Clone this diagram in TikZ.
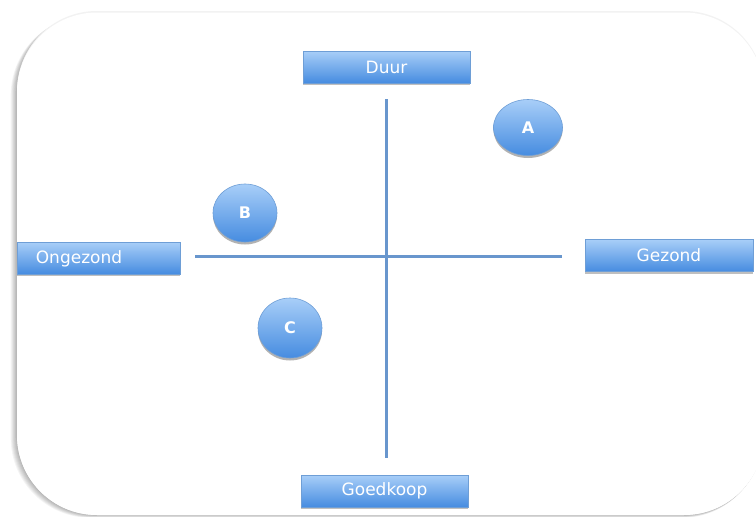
\documentclass[tikz,border=0pt]{standalone}
\usepackage{fontspec}
\setmainfont{DejaVu Sans}
\usetikzlibrary{shadows,shapes.geometric}
\definecolor{topblue}{RGB}{168,206,248}
\definecolor{botblue}{RGB}{70,140,224}
\definecolor{edgeblue}{RGB}{110,158,214}
\definecolor{axisblue}{RGB}{104,150,205}
\tikzset{
  lbl/.style={draw=edgeblue, line width=0.6pt, top color=topblue, bottom color=botblue,
    minimum width=167pt, minimum height=32pt, inner sep=0pt, text=white,
    font=\fontsize{17}{17}\selectfont,
    drop shadow={shadow xshift=0pt, shadow yshift=-2pt, opacity=0.25, fill=black}},
  lbltext/.style={text=white, font=\fontsize{17}{17}\selectfont, inner sep=0pt},
  dot/.style={ellipse, draw=edgeblue, line width=0.6pt, top color=topblue, bottom color=botblue,
    inner sep=0pt, text=white, font=\fontsize{16}{16}\selectfont\bfseries,
    drop shadow={shadow xshift=0pt, shadow yshift=-2.5pt, opacity=0.3, fill=black}},
  axis/.style={draw=axisblue, line width=2.4pt}
}
\begin{document}
\begin{tikzpicture}[x=1pt,y=-1pt]
\useasboundingbox (0,0) rectangle (756,517);
\clip (0,0) rectangle (756,517);
\fill[white] (0,0) rectangle (756,517);
% soft shadow of the panel
\foreach \k in {1,...,7}{
  \fill[black, opacity=0.045] ({17-\k*0.9},{12+\k*0.5}) [rounded corners=80pt] rectangle ({764-\k*0.3},{515+\k*0.4});
}
\fill[gray!10] (17,11) [rounded corners=80pt] rectangle (764,515);
\fill[white] (17,12.5) [rounded corners=80pt] rectangle (764,515);
% axes
\coordinate (vt) at (386.5,99);
\coordinate (vb) at (386.5,458);
\coordinate (hl) at (195,256.5);
\coordinate (hr) at (562,256.5);
\draw[axis] (vt) -- (vb);
\draw[axis] (hl) -- (hr);
% labels
\node[lbl] (duur) at (386.5,67) {Duur};
\node[lbl, minimum width=163pt] (ongezond) at (98.5,258) {};
\node[lbltext] (ongtxt) at (79,259) {Ongezond};
\node[lbl, minimum width=168pt] (gezond) at (669,255.5) {Gezond};
\node[lbl] (goedkoop) at (384.5,491) {Goedkoop};
% circles
\node[dot, minimum width=69pt, minimum height=56pt] (A) at (528,127.5) {A};
\node[dot, minimum width=64pt, minimum height=58pt] (B) at (245,213) {B};
\node[dot, minimum width=64pt, minimum height=60pt] (C) at (290,328) {C};
\end{tikzpicture}
\end{document}
